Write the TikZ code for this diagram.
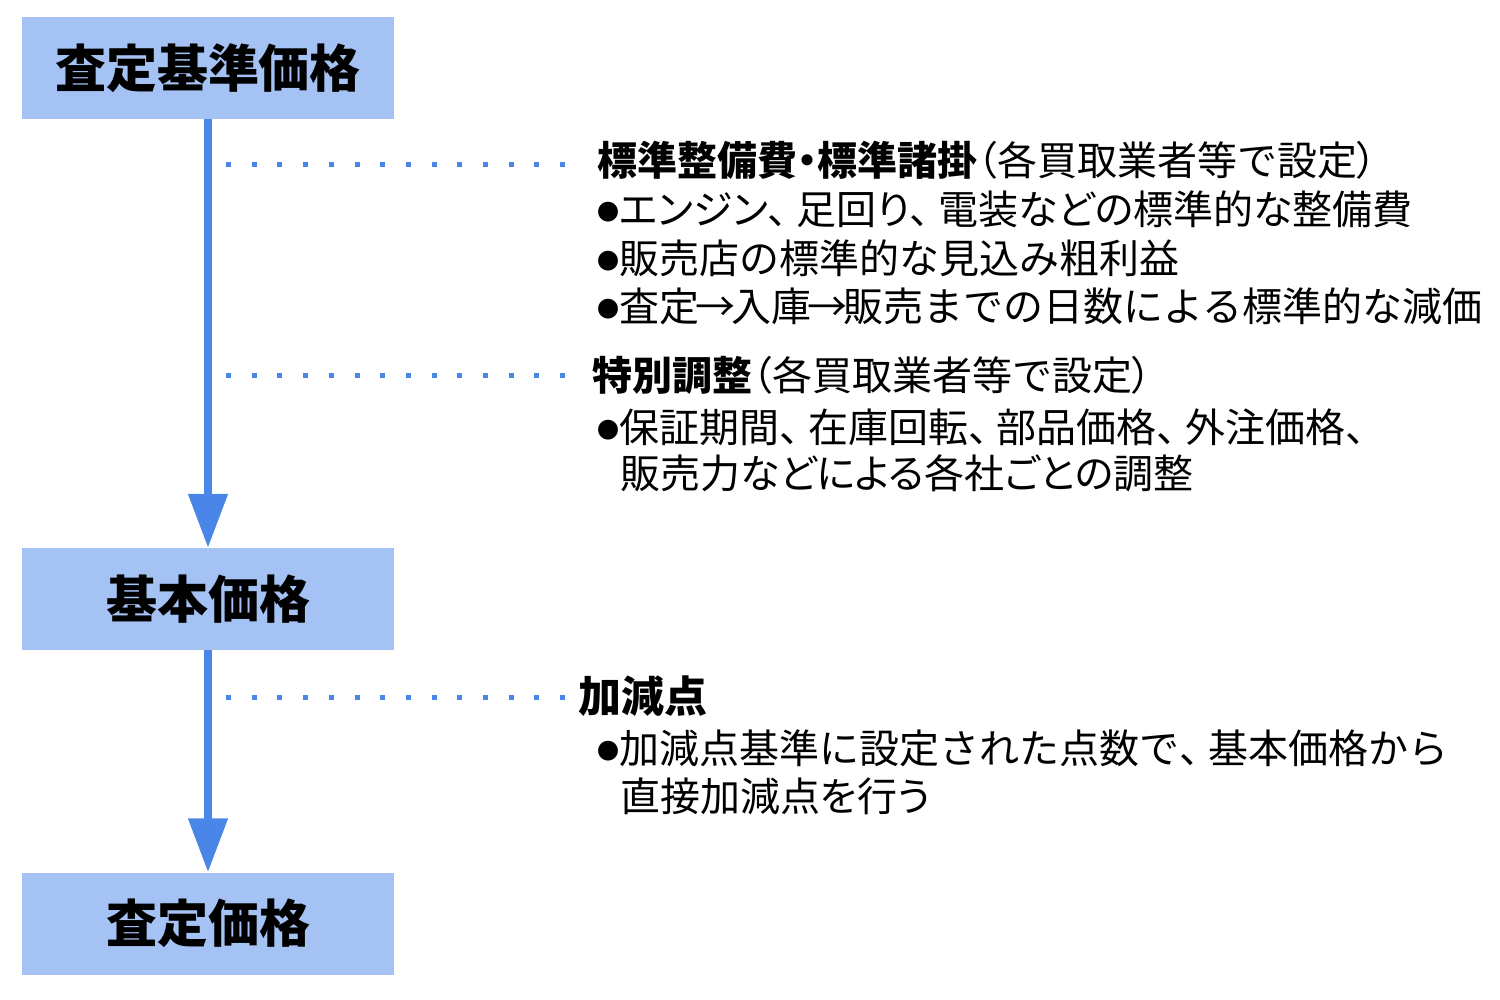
\documentclass[tikz,border=0pt]{standalone}
\usepackage{fontspec}
\newfontfamily\jp{Noto Sans CJK JP}
\newfontfamily\jpp{Noto Sans CJK JP}[RawFeature=+palt]
\usetikzlibrary{arrows.meta}
\definecolor{boxblue}{HTML}{A4C2F4}
\definecolor{linkblue}{HTML}{4A86E8}
\newcommand{\bul}{{\jp\fontsize{22pt}{22pt}\selectfont\raisebox{4pt}{●}}}
\newcommand{\tc}{\makebox[0.72em][l]{、}}
\newcommand{\ra}{\makebox[0.8em][c]{→}}
\newcommand{\lp}{{\jpp （}}
\newcommand{\rp}{{\jpp ）}}
\newcommand{\nk}{{\jpp ・}}
\begin{document}
\begin{tikzpicture}[x=1pt,y=-1pt,
  pricebox/.style={fill=boxblue,draw=none,minimum width=372pt,minimum height=102pt,inner sep=0pt,
    font=\jp\bfseries\fontsize{51pt}{51pt}\selectfont},
  flowarrow/.style={draw=linkblue,line width=8pt,-{Triangle[width=38pt,length=54pt]}},
  dotline/.style={draw=linkblue,line width=5pt,dash pattern=on 5pt off 20.7pt},
  ttl/.style={anchor=base west,inner sep=0pt,font=\jp\fontsize{40pt}{40pt}\selectfont},
  txt/.style={anchor=base west,inner sep=0pt,font=\jp\fontsize{40pt}{40pt}\selectfont},
  txtp/.style={anchor=base west,inner sep=0pt,font=\jpp\fontsize{40pt}{40pt}\selectfont}]
\useasboundingbox (0,0) rectangle (1500,1000);
\node[pricebox] (b1) at (208,68) {査定基準価格};
\node[pricebox] (b2) at (208,599) {基本価格};
\node[pricebox] (b3) at (208,923.5) {査定価格};
\draw[flowarrow] (b1.south) -- (b2.north);
\draw[flowarrow] (b2.south) -- (b3.north);
% block 1
\node[ttl] (t1) at (597,176) {{\bfseries 標準整備費\nk 標準諸掛}\lp 各買取業者等で設定\rp};
\node[txtp] (t1a) at (597,225) {\bul エンジン\tc 足回り\tc 電装などの標準的な整備費};
\node[txt] (t1b) at (597,274) {\bul 販売店の標準的な見込み粗利益};
\node[txt] (t1c) at (597,322) {\bul 査定\ra 入庫\ra 販売までの日数による標準的な減価};
% block 2
\node[ttl] (t2) at (592,390) {{\bfseries 特別調整}\lp 各買取業者等で設定\rp};
\node[txt] (t2a) at (597,442) {\bul 保証期間\tc 在庫回転\tc 部品価格\tc 外注価格\tc};
\node[txtp] (t2b) at (620,488) {販売力などによる各社ごとの調整};
% block 3
\node[ttl,font=\jp\bfseries\fontsize{43pt}{43pt}\selectfont] (t3) at (578,712) {加減点};
\node[txt] (t3a) at (597,763) {\bul 加減点基準に設定された点数で\tc 基本価格から};
\node[txtp] (t3b) at (620,811) {直接加減点を行う};
% dotted leaders
\coordinate (d1s) at (226,165);
\coordinate (d1e) at (568,165);
\coordinate (d2s) at (226,376);
\coordinate (d2e) at (568,376);
\coordinate (d3s) at (226,697);
\coordinate (d3e) at (568,697);
\draw[dotline] (d1s) -- (d1e);
\draw[dotline] (d2s) -- (d2e);
\draw[dotline] (d3s) -- (d3e);
\end{tikzpicture}
\end{document}
